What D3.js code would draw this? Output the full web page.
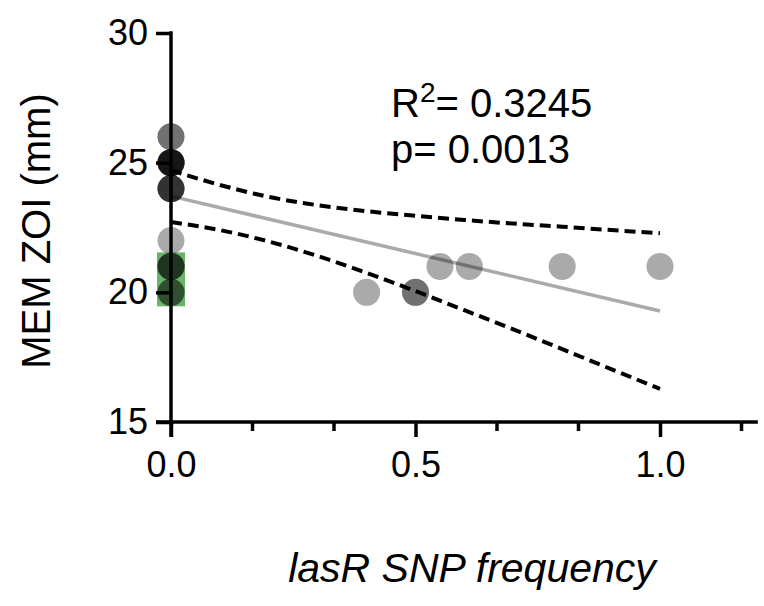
<!DOCTYPE html>
<html>
<head>
<meta charset="utf-8">
<script src="https://cdn.jsdelivr.net/npm/d3@7"></script>
<style>
  body { margin: 0; background: #fff; }
  text { font-family: "Liberation Sans", Arial, sans-serif; fill: #000; }
</style>
</head>
<body>
<div class="chart"></div>
<script>
// one entry per isolate (overlapping isolates stack up to darker dots)
const snpFreq = [0, 0, 0, 0, 0, 0, 0, 0, 0, 0, 0, 0, 0, 0, 0, 0, 0, 0,
  0.4, 0.5, 0.5, 0.55, 0.61, 0.8, 1.0];
const memZoi = [26, 26, 25, 25, 25, 25, 25, 25, 24, 24, 24, 24, 22, 21, 21, 21, 20, 20,
  20, 20, 20, 21, 21, 21, 21];

// highlighted isolates (green squares)
const greenFreq = [0, 0];
const greenZoi = [21, 20];

// linear fit and 95% confidence band
const fitX = [0, 1.0];
const fitY = [23.71, 19.28];
const bandX = [0, 0.1, 0.2, 0.3, 0.4, 0.5, 0.6, 0.7, 0.8, 0.9, 1.0];
const bandUpper = [24.71, 24.14, 23.68, 23.36, 23.13, 22.95, 22.79, 22.65, 22.53, 22.40, 22.28];
const bandLower = [22.71, 22.40, 21.96, 21.40, 20.75, 20.05, 19.31, 18.57, 17.81, 17.04, 16.28];

const yTicks = [15, 20, 25, 30];
const xMajorTicks = [0, 0.5, 1.0];
const xMinorTicks = [1 / 6, 2 / 6, 4 / 6, 5 / 6, 7 / 6];

const rSquared = "0.3245";
const pValue = "0.0013";

const svgWidth = 764;
const svgHeight = 606;
const svg = d3.select(".chart").append("svg")
  .attr("width", svgWidth)
  .attr("height", svgHeight);

const xScale = d3.scaleLinear().domain([0, 1.2]).range([171, 757.8]);
const yScale = d3.scaleLinear().domain([15, 30]).range([422, 33]);
const axisWidth = 3.5;

const line = d3.line()
  .x((d) => xScale(d[0]))
  .y((d) => yScale(d[1]));
const curved = d3.line()
  .x((d) => xScale(d[0]))
  .y((d) => yScale(d[1]))
  .curve(d3.curveMonotoneX);

// fit line
svg.append("path")
  .attr("d", line(fitX.map((x, i) => [x, fitY[i]])))
  .attr("fill", "none")
  .attr("stroke", "#aaaaaa")
  .attr("stroke-width", 3.5);

// confidence band
[bandUpper, bandLower].forEach((band) => {
  svg.append("path")
    .attr("d", curved(bandX.map((x, i) => [x, band[i]])))
    .attr("fill", "none")
    .attr("stroke", "#000")
    .attr("stroke-width", 4)
    .attr("stroke-dasharray", "11,6");
});

// green squares
const side = 28;
svg.selectAll("rect.green")
  .data(greenFreq.map((x, i) => [x, greenZoi[i]]))
  .enter()
  .append("rect")
  .attr("class", "green")
  .attr("x", (d) => xScale(d[0]) - side / 2)
  .attr("y", (d) => yScale(d[1]) - side / 2)
  .attr("width", side)
  .attr("height", side)
  .attr("fill", "#6bb56b");

// isolates
svg.selectAll("circle")
  .data(snpFreq.map((x, i) => [x, memZoi[i]]))
  .enter()
  .append("circle")
  .attr("cx", (d) => xScale(d[0]))
  .attr("cy", (d) => yScale(d[1]))
  .attr("r", 13.5)
  .attr("fill", "#000")
  .attr("fill-opacity", 0.335);

// y axis
const yAxisG = svg.append("g")
  .attr("transform", `translate(${xScale(0)},0)`)
  .call(d3.axisLeft(yScale).tickValues(yTicks).tickSize(15).tickPadding(8).tickFormat(d3.format("d")));
yAxisG.select(".domain").remove();
yAxisG.append("line")
  .attr("x1", 0).attr("x2", 0)
  .attr("y1", yScale(30) - axisWidth / 2).attr("y2", yScale(15) + 15)
  .attr("stroke", "#000").attr("stroke-width", axisWidth);
yAxisG.selectAll(".tick line").attr("stroke", "#000").attr("stroke-width", axisWidth);
yAxisG.selectAll(".tick text")
  .attr("font-size", 36)
  .attr("fill", "#000")
  .attr("font-family", "'Liberation Sans', Arial, sans-serif");

// x axis
const xAxisG = svg.append("g")
  .attr("transform", `translate(0,${yScale(15)})`)
  .call(d3.axisBottom(xScale).tickValues(xMajorTicks).tickSize(15).tickPadding(14).tickFormat(d3.format(".1f")));
xAxisG.select(".domain").remove();
xAxisG.append("line")
  .attr("x1", xScale(0) - 15).attr("x2", xScale(1.2))
  .attr("y1", 0).attr("y2", 0)
  .attr("stroke", "#000").attr("stroke-width", axisWidth);
xAxisG.selectAll(".tick line").attr("stroke", "#000").attr("stroke-width", axisWidth);
xAxisG.selectAll(".tick text")
  .attr("font-size", 36)
  .attr("fill", "#000")
  .attr("font-family", "'Liberation Sans', Arial, sans-serif");
xAxisG.selectAll("line.minor")
  .data(xMinorTicks)
  .enter()
  .append("line")
  .attr("class", "minor")
  .attr("x1", (d) => xScale(d)).attr("x2", (d) => xScale(d))
  .attr("y1", 0).attr("y2", 9)
  .attr("stroke", "#000").attr("stroke-width", axisWidth);

// axis titles
svg.append("text")
  .attr("transform", "translate(50,231) rotate(-90)")
  .attr("text-anchor", "middle")
  .attr("font-size", 40)
  .text("MEM ZOI (mm)");

svg.append("text")
  .attr("x", 472)
  .attr("y", 582)
  .attr("text-anchor", "middle")
  .attr("font-size", 41)
  .attr("font-style", "italic")
  .text("lasR SNP frequency");

// stats
const stats = svg.append("text")
  .attr("x", 391)
  .attr("y", 117)
  .attr("font-size", 40);
stats.append("tspan").text("R");
stats.append("tspan").attr("font-size", 28).attr("dy", -15).text("2");
stats.append("tspan").attr("dy", 15).text("= " + rSquared);

svg.append("text")
  .attr("x", 391)
  .attr("y", 163)
  .attr("font-size", 40)
  .text("p= " + pValue);
</script>
</body>
</html>
